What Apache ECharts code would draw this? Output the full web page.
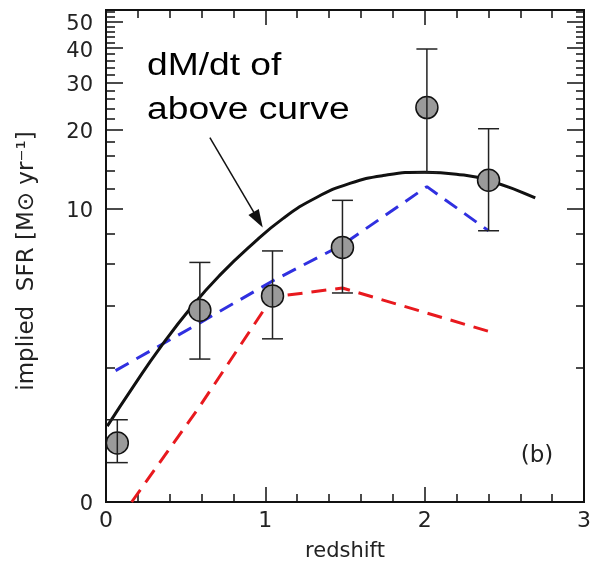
<!DOCTYPE html>
<html>
<head>
<meta charset="utf-8">
<script src="https://cdn.jsdelivr.net/npm/echarts@6/dist/echarts.min.js"></script>
<style>
html,body{margin:0;padding:0;background:#fff;}
#chart{width:590px;height:566px;}
</style>
</head>
<body>
<div id="chart"></div>
<script>
// ---- data ----
const redshiftPts = [0.071, 0.589, 1.045, 1.484, 2.014, 2.401];
const sfrPts      = [0.62, 3.80, 4.40, 7.03, 24.2, 12.9];
const sfrLow      = [0.38, 2.22, 2.80, 4.53, 13.8, 8.2];
const sfrHigh     = [0.96, 6.10, 6.80, 10.8, 39.7, 20.2];

const curveZ   = [0.008, 0.169, 0.339, 0.548, 0.721, 0.903, 1.112, 1.321, 1.530, 1.739, 2.0, 2.199, 2.401, 2.694];
const curveSFR = [0.86, 1.56, 2.53, 4.02, 5.45, 7.09, 9.18, 11.08, 12.55, 13.45, 13.86, 13.62, 12.90, 11.03];

const blueZ   = [0.06, 0.589, 1.045, 1.484, 2.014, 2.401];
const blueSFR = [1.93, 3.33, 5.10, 7.2, 12.2, 8.2];

const redZ   = [0.161, 0.589, 1.045, 1.484, 2.401];
const redSFR = [0.0, 1.19, 4.35, 4.76, 3.04];

const yMajorTicks = [10, 20, 30, 40, 50];
const yLabelTicks = [0, 10, 20, 30, 40, 50];
const yMinorTicks = [2, 4, 6, 8, 12, 14, 16, 18, 22, 24, 26, 28, 32, 34, 36, 38, 42, 44, 46, 48, 52, 54];
const ySfrMax = 55;

const arrowFrom = [0.652, 18.7];
const arrowTo   = [0.955, 9.07];

// ---- helpers ----
const T = v => Math.log10(1 + v);
const yMax = T(ySfrMax);
const FONT = 'DejaVu Sans';
const black = '#111';

function yAxisBase(pos, ticks, len, withLabels) {
  const ax = {
    type: 'value', position: pos, min: 0, max: yMax,
    axisLine: { show: true, onZero: false, lineStyle: { color: black, width: 2 } },
    axisTick: { show: true, inside: true, length: len, customValues: ticks.map(T),
                lineStyle: { color: black, width: 1.5 } },
    axisLabel: { show: false },
    splitLine: { show: false }
  };
  if (withLabels) {
    ax.axisLabel = {
      show: true, customValues: yLabelTicks.map(T), margin: 13,
      fontFamily: FONT, fontSize: 21, color: '#222',
      verticalAlign: 'top', verticalAlignMinLabel: 'top', verticalAlignMaxLabel: 'top',
      lineHeight: 6,
      formatter: v => String(Math.round(Math.pow(10, v) - 1))
    };
    ax.name = 'implied  SFR [M\u2299 yr\u207B\u00B9]';
    ax.nameLocation = 'middle';
    ax.nameGap = 67;
    ax.nameRotate = 90;
    ax.nameTextStyle = { fontFamily: FONT, fontSize: 23, color: '#222', padding: [0, 10, 0, 0] };
  }
  return ax;
}

function xAxisBase(pos, withLabels) {
  const ax = {
    type: 'value', position: pos, min: 0, max: 3, interval: 1,
    axisLine: { show: true, onZero: false, lineStyle: { color: black, width: 2 } },
    axisTick: { show: true, inside: true, length: 15, lineStyle: { color: black, width: 1.5 } },
    minorTick: { show: true, splitNumber: 5, length: 8, lineStyle: { color: black, width: 1.5 } },
    axisLabel: { show: withLabels, margin: 8, fontFamily: FONT, fontSize: 22, color: '#222' },
    splitLine: { show: false }
  };
  if (withLabels) {
    ax.name = 'redshift';
    ax.nameLocation = 'middle';
    ax.nameGap = 39;
    ax.nameTextStyle = { fontFamily: FONT, fontSize: 21, color: '#222' };
  }
  return ax;
}

const chart = echarts.init(document.getElementById('chart'));
const option = {
  animation: false,
  backgroundColor: '#fff',
  grid: { left: 106, right: 6, top: 10, bottom: 64, containLabel: false, outerBoundsMode: 'none' },
  xAxis: [xAxisBase('bottom', true), xAxisBase('top', false)],
  yAxis: [
    yAxisBase('left', yMajorTicks, 17, true),
    yAxisBase('left', yMinorTicks, 9, false),
    yAxisBase('right', yMajorTicks, 17, false),
    yAxisBase('right', yMinorTicks, 8, false)
  ],
  series: [
    {
      type: 'line', name: 'red', showSymbol: false, z: 2, clip: true,
      data: redZ.map((z, i) => [z, T(redSFR[i])]),
      lineStyle: { color: '#e8191e', width: 3, type: [15, 9] }
    },
    {
      type: 'line', name: 'blue', showSymbol: false, z: 3, clip: true,
      data: blueZ.map((z, i) => [z, T(blueSFR[i])]),
      lineStyle: { color: '#3030e0', width: 3, type: [15, 9] }
    },
    {
      type: 'line', name: 'dMdt', showSymbol: false, z: 4, smooth: 0.5, clip: true,
      data: curveZ.map((z, i) => [z, T(curveSFR[i])]),
      lineStyle: { color: black, width: 3 },
      markLine: {
        silent: true, symbol: ['none', 'triangle'], symbolSize: [12, 18],
        label: { show: false },
        lineStyle: { color: black, width: 1.5, type: 'solid' },
        data: [[{ coord: [arrowFrom[0], T(arrowFrom[1])] }, { coord: [arrowTo[0], T(arrowTo[1])] }]]
      }
    },
    {
      type: 'scatter', name: 'points', z: 5,
      symbol: 'circle', symbolSize: 22,
      itemStyle: { color: '#9a9a9a', borderColor: black, borderWidth: 1.5, opacity: 1 },
      data: redshiftPts.map((z, i) => [z, T(sfrPts[i])])
    },
    {
      type: 'custom', name: 'errors', z: 6,
      data: redshiftPts.map((z, i) => [z, T(sfrLow[i]), T(sfrHigh[i])]),
      encode: { x: 0, y: [1, 2] },
      renderItem: function (params, api) {
        const x = api.value(0);
        const pLo = api.coord([x, api.value(1)]);
        const pHi = api.coord([x, api.value(2)]);
        const hw = 10.5;
        const st = { stroke: '#222', lineWidth: 1.5 };
        return {
          type: 'group',
          children: [
            { type: 'line', shape: { x1: pLo[0], y1: pLo[1], x2: pHi[0], y2: pHi[1] }, style: st },
            { type: 'line', shape: { x1: pLo[0] - hw, y1: pLo[1], x2: pLo[0] + hw, y2: pLo[1] }, style: st },
            { type: 'line', shape: { x1: pHi[0] - hw, y1: pHi[1], x2: pHi[0] + hw, y2: pHi[1] }, style: st }
          ]
        };
      }
    }
  ],
  graphic: [
    { type: 'text', x: 147, y: 51, scaleX: 1.2, scaleY: 1,
      style: { text: 'dM/dt of', fontFamily: 'Liberation Sans', fontSize: 31, fill: '#000', textVerticalAlign: 'top' } },
    { type: 'text', x: 147, y: 95, scaleX: 1.2, scaleY: 1,
      style: { text: 'above curve', fontFamily: 'Liberation Sans', fontSize: 31, fill: '#000', textVerticalAlign: 'top' } },
    { type: 'text', x: 537, y: 456,
      style: { text: '(b)', fontFamily: FONT, fontSize: 23, fill: '#222', textAlign: 'center', textVerticalAlign: 'middle' } }
  ]
};
chart.setOption(option);
</script>
</body>
</html>
